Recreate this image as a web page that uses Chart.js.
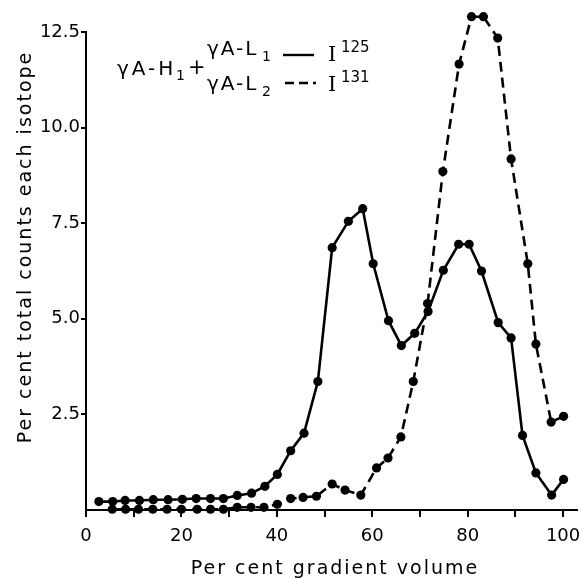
<!DOCTYPE html>
<html lang="en">
<head>
<meta charset="UTF-8" />
<title>Isotope gradient profile</title>
<script src="https://cdn.jsdelivr.net/npm/chart.js"></script>
<style>
  html, body { margin: 0; padding: 0; background: #fff; }
  #wrap { width: 582px; height: 579px; }
</style>
</head>
<body>
<div id="wrap"><canvas id="chart" width="582" height="579"></canvas></div>
<script>
  // I-125, solid line (gamma A-H1 + gamma A-L1)
  const solidX = [2.7, 5.6, 8.2, 11.2, 14.1, 17.2, 20.2, 23.1, 26.1, 28.8, 31.7, 34.7, 37.5, 40.1, 42.9, 45.7, 48.6,
                  51.6, 55.0, 58.0, 60.2, 63.4, 66.1, 68.9, 71.7, 74.9, 78.1, 80.3, 82.9, 86.4, 89.1, 91.5, 94.3, 97.6, 100.1];
  const solidY = [0.22, 0.22, 0.25, 0.25, 0.27, 0.27, 0.28, 0.30, 0.30, 0.30, 0.38, 0.44, 0.62, 0.93, 1.55, 2.01, 3.36,
                  6.86, 7.55, 7.88, 6.44, 4.95, 4.30, 4.62, 5.19, 6.27, 6.95, 6.95, 6.25, 4.90, 4.50, 1.95, 0.97, 0.39, 0.80];

  // I-131, dashed line (gamma A-L2)
  const dashedX = [5.5, 8.3, 11.0, 14.0, 17.0, 20.0, 23.3, 26.1, 28.8, 31.7, 34.6, 37.3, 40.1, 42.9, 45.5, 48.3,
                   51.6, 54.3, 57.6, 60.9, 63.3, 66.0, 68.6, 71.6, 74.8, 78.2, 80.8, 83.3, 86.3, 89.1, 92.6, 94.3, 97.5, 100.1];
  const dashedY = [0.02, 0.02, 0.02, 0.02, 0.02, 0.02, 0.02, 0.02, 0.02, 0.07, 0.07, 0.07, 0.15, 0.30, 0.33, 0.36,
                   0.68, 0.52, 0.39, 1.10, 1.36, 1.91, 3.36, 5.40, 8.85, 11.66, 12.90, 12.90, 12.34, 9.18, 6.44, 4.34, 2.30, 2.45];

  const xTickMarks = [0, 10, 20, 30, 40, 50, 60, 70, 80, 90, 100];
  const xTickLabels = [0, 20, 40, 60, 80, 100];
  const yTicks = [2.5, 5, 7.5, 10, 12.5];
  const xTitle = 'Per cent gradient volume';
  const yTitle = 'Per cent total counts each isotope';

  const FONT = "'DejaVu Sans', sans-serif";

  // the I131 peak sits above 12.5; let its points draw outside the plot box
  const overflowPoints = {
    id: 'overflowPoints',
    beforeDatasetsDraw(chart) {
      this._area = chart.chartArea;
      chart.chartArea = Object.assign({}, this._area, { top: 0, bottom: chart.height });
    },
    afterDatasetsDraw(chart) {
      chart.chartArea = this._area;
    }
  };

  // legend + axis titles, drawn on top
  const textPlugin = {
    id: 'texts',
    afterDraw(chart) {
      const ctx = chart.ctx;
      ctx.save();
      ctx.fillStyle = '#000';
      ctx.strokeStyle = '#000';

      // axis titles
      ctx.font = '19px ' + FONT;
      ctx.letterSpacing = '2px';
      ctx.textAlign = 'center';
      ctx.textBaseline = 'alphabetic';
      ctx.fillText(xTitle, 335, 574);
      ctx.save();
      ctx.translate(31, 247);
      ctx.rotate(-Math.PI / 2);
      ctx.fillText(yTitle, 0, 0);
      ctx.restore();

      // legend block
      ctx.textAlign = 'left';
      ctx.font = '20px ' + FONT;
      ctx.letterSpacing = '3px';
      ctx.fillText('γA-H', 117, 75);
      ctx.letterSpacing = '0px';
      ctx.font = '14px ' + FONT;
      ctx.fillText('1', 176, 80);
      ctx.font = '21px ' + FONT;
      ctx.fillText('+', 188, 74);

      ctx.font = '20px ' + FONT;
      ctx.letterSpacing = '2px';
      ctx.fillText('γA-L', 207, 55);
      ctx.fillText('γA-L', 207, 90);
      ctx.letterSpacing = '0px';
      ctx.font = '14px ' + FONT;
      ctx.fillText('1', 262, 61);
      ctx.fillText('2', 262, 96);

      ctx.lineWidth = 2.4;
      ctx.beginPath();
      ctx.moveTo(283, 55); ctx.lineTo(314, 55);
      ctx.stroke();
      ctx.setLineDash([9, 5]);
      ctx.beginPath();
      ctx.moveTo(285, 83); ctx.lineTo(316, 83);
      ctx.stroke();
      ctx.setLineDash([]);

      ctx.font = "21px 'DejaVu Serif', serif";
      ctx.fillText('I', 328, 61);
      ctx.fillText('I', 328, 91);
      ctx.font = '15px ' + FONT;
      ctx.fillText('125', 341, 52);
      ctx.fillText('131', 341, 82);
      ctx.restore();
    }
  };

  const ctx = document.getElementById('chart').getContext('2d');

  const chart = new Chart(ctx, {
    type: 'line',
    data: {
      datasets: [
        {
          label: 'I125',
          data: solidX.map((x, i) => ({ x: x, y: solidY[i] })),
          borderColor: '#000',
          backgroundColor: '#000',
          borderWidth: 2.6,
          pointRadius: 4.6,
          pointBorderWidth: 0,
          tension: 0,
          clip: false
        },
        {
          label: 'I131',
          data: dashedX.map((x, i) => ({ x: x, y: dashedY[i] })),
          borderColor: '#000',
          backgroundColor: '#000',
          borderWidth: 2.6,
          borderDash: [10, 6],
          pointRadius: 4.6,
          pointBorderWidth: 0,
          tension: 0,
          clip: false
        }
      ]
    },
    options: {
      responsive: false,
      animation: false,
      layout: { padding: { top: 32, right: 0, left: 0, bottom: 0 } },
      plugins: {
        legend: { display: false },
        tooltip: { enabled: false }
      },
      scales: {
        x: {
          type: 'linear',
          min: 0,
          max: 103,
          afterBuildTicks: s => { s.ticks = xTickMarks.map(v => ({ value: v })); },
          afterFit: s => { s.height = 69; s.paddingLeft = 0; s.paddingRight = 0; },
          border: { color: '#000', width: 2 },
          grid: { drawOnChartArea: false, color: '#000', tickLength: 7, lineWidth: 2 },
          ticks: {
            color: '#000',
            autoSkip: false,
            maxRotation: 0,
            padding: 9,
            font: { family: FONT, size: 18 },
            callback: v => xTickLabels.includes(v) ? String(v) : ''
          }
        },
        y: {
          min: 0,
          max: 12.5,
          afterBuildTicks: s => { s.ticks = yTicks.map(v => ({ value: v })); },
          afterFit: s => { s.width = 86; },
          border: { color: '#000', width: 2 },
          grid: { drawOnChartArea: false, color: '#000', tickLength: 5, lineWidth: 2 },
          ticks: {
            color: '#000',
            padding: 1,
            font: { family: FONT, size: 18 },
            callback: v => v.toFixed(1)
          }
        }
      }
    },
    plugins: [overflowPoints, textPlugin]
  });
</script>
</body>
</html>
